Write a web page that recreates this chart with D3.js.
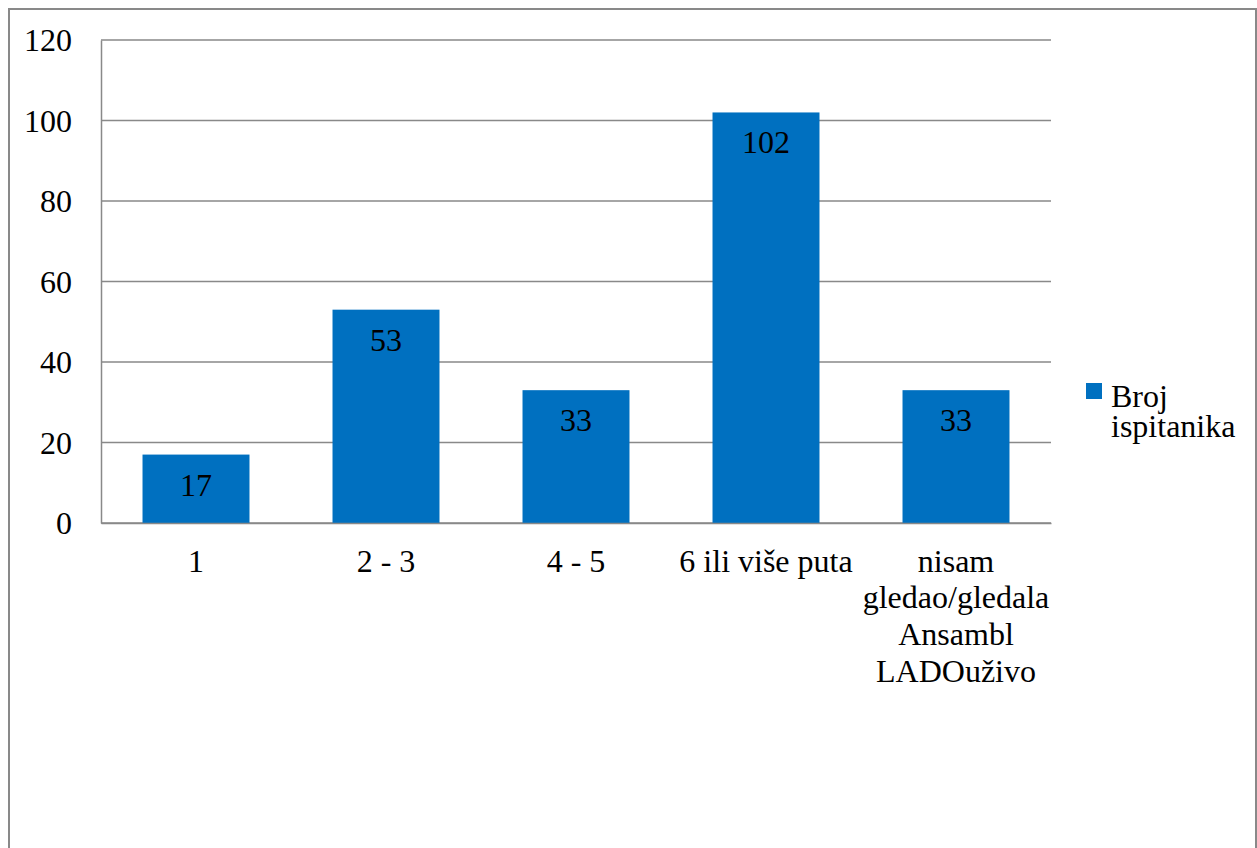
<!DOCTYPE html>
<html>
<head>
<meta charset="utf-8">
<script src="https://cdn.jsdelivr.net/npm/d3@7/dist/d3.min.js"></script>
<style>
  body { margin: 0; background: #fff; }
  svg { display: block; }
  svg text { font-family: "Liberation Serif", "Times New Roman", serif; }
</style>
</head>
<body>
<svg class="chart" width="1257" height="848"></svg>
<script>
var categories = ["1", "2 - 3", "4 - 5", "6 ili više puta", "nisam gledao/gledala Ansambl LADOuživo"];
var values = [17, 53, 33, 102, 33];
var yTicks = [0, 20, 40, 60, 80, 100, 120];
var seriesName = "Broj ispitanika";

var color = "#0070C0",
    gridColor = "#898989",
    fontFamily = "'Liberation Serif', 'Times New Roman', serif",
    fontSize = 32;

var margin = {top: 40, right: 206, bottom: 325, left: 101};
var width = 1257 - margin.left - margin.right,
    height = 848 - margin.top - margin.bottom;

var svg = d3.select('.chart');

// outer chart frame (runs off the bottom like the original)
svg.append('rect')
    .attr('x', 9).attr('y', 9)
    .attr('width', 1247).attr('height', 900)
    .attr('fill', 'none')
    .attr('stroke', gridColor)
    .attr('stroke-width', 2);

var chart = svg.append('g')
    .attr('transform', 'translate(' + margin.left + ',' + margin.top + ')');

var x = d3.scaleBand()
    .domain(categories)
    .range([0, width])
    .paddingInner(0.437)
    .paddingOuter(0.2185);

var y = d3.scaleLinear()
    .domain([0, 120])
    .range([height, 0]);

// gridlines
chart.append('g').attr('class', 'grid')
  .selectAll('line')
    .data(yTicks)
    .enter().append('line')
    .attr('x1', 0).attr('x2', width)
    .attr('y1', function(d){ return y(d) })
    .attr('y2', function(d){ return y(d) })
    .attr('stroke', gridColor)
    .attr('stroke-width', 1.5);

// y axis
var yAxis = d3.axisLeft(y).tickValues(yTicks).tickSize(0).tickPadding(29);
chart.append('g')
    .attr('class', 'y axis')
    .call(yAxis)
    .call(function(g){ g.select('.domain').attr('stroke', gridColor).attr('stroke-width', 1.5); })
  .selectAll('text')
    .style('font-family', fontFamily)
    .style('font-size', fontSize + 'px')
    .attr('fill', '#000')
    .attr('dy', '0.33em');

// bars
chart.selectAll('.bar')
    .data(values)
    .enter().append('rect')
    .attr('class', 'bar')
    .attr('x', function(d, i){ return x(categories[i]) })
    .attr('y', function(d){ return y(d) })
    .attr('width', x.bandwidth())
    .attr('height', function(d){ return height - y(d) })
    .attr('fill', color);

// value labels inside end
chart.selectAll('.val')
    .data(values)
    .enter().append('text')
    .attr('class', 'val')
    .attr('x', function(d, i){ return x(categories[i]) + x.bandwidth() / 2 })
    .attr('y', function(d){ return y(d) + 41 })
    .attr('text-anchor', 'middle')
    .style('font-family', fontFamily)
    .style('font-size', fontSize + 'px')
    .text(function(d){ return d });

// x axis labels
var xAxis = d3.axisBottom(x).tickSize(0).tickPadding(26);
chart.append('g')
    .attr('class', 'x axis')
    .attr('transform', 'translate(0,' + height + ')')
    .call(xAxis)
    .call(function(g){ g.select('.domain').attr('stroke', gridColor).attr('stroke-width', 1.5); })
  .selectAll('.tick text')
    .style('font-family', fontFamily)
    .style('font-size', fontSize + 'px')
    .attr('fill', '#000')
    .attr('dy', '0.71em')
    .call(wrap, x.step());

// legend
var legend = svg.append('g').attr('transform', 'translate(1086,383)');
legend.append('rect')
    .attr('width', 16).attr('height', 16)
    .attr('fill', color);
var lt = legend.append('text')
    .attr('x', 25).attr('y', 24)
    .style('font-family', fontFamily)
    .style('font-size', fontSize + 'px');
seriesName.split(' ').forEach(function(w, i){
    lt.append('tspan').attr('x', 25).attr('dy', i === 0 ? 0 : 30).text(w);
});

function wrap(texts, w) {
    texts.each(function() {
        var text = d3.select(this),
            words = text.text().split(/\s+/).reverse(),
            word,
            line = [],
            lineNumber = 0,
            lineHeight = 36.7,
            yy = text.attr('y'),
            tspan = text.text(null).append('tspan').attr('x', 0).attr('y', yy).attr('dy', '0.71em');
        while (word = words.pop()) {
            line.push(word);
            tspan.text(line.join(' '));
            if (tspan.node().getComputedTextLength() > w && line.length > 1) {
                line.pop();
                tspan.text(line.join(' '));
                line = [word];
                tspan = text.append('tspan').attr('x', 0).attr('y', yy)
                    .attr('dy', (++lineNumber * lineHeight / fontSize + 0.71) + 'em')
                    .text(word);
            }
        }
    });
}
</script>
</body>
</html>
